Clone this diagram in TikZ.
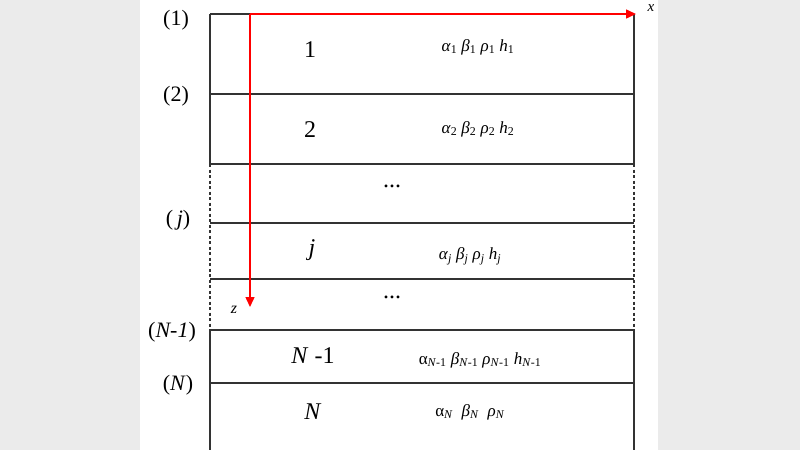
\documentclass[tikz,border=0pt]{standalone}
\usepackage{fontspec}
\setmainfont{Liberation Serif}
\usetikzlibrary{arrows.meta}
\newcommand{\gs}[2]{\textit{#1}\textsubscript{#2}}
\begin{document}
\begin{tikzpicture}[x=1pt,y=-1pt,
  lay/.style={draw=black!80,line width=1.1pt},
  dsh/.style={draw=black!80,line width=1.1pt,dash pattern=on 3pt off 2.5pt},
  ax/.style={red,line width=1.5pt,-{Triangle[length=10pt,width=9pt]}},
  big/.style={font=\fontsize{24}{28}\selectfont},
  par/.style={font=\fontsize{17}{20}\selectfont},
  lbl/.style={font=\fontsize{22}{26}\selectfont}]
\useasboundingbox (0,0) rectangle (800,450);
\fill[black!8] (0,0) rectangle (800,450);
\fill[white] (140,0) rectangle (658,450);
\foreach \y in {14,94,164,223,279,330,383} \draw[lay] (210,\y) -- (634,\y);
\draw[lay] (210,14) -- (210,164); \draw[lay] (634,14) -- (634,164);
\draw[dsh] (210,164) -- (210,330); \draw[dsh] (634,164) -- (634,330);
\draw[lay] (210,330) -- (210,450); \draw[lay] (634,330) -- (634,450);
\coordinate (o) at (250,14);
\coordinate (xe) at (636,14);
\coordinate (ze) at (250,307);
\draw[ax] (o) -- (xe);
\draw[ax] (o) -- (ze);
\node[font=\fontsize{15}{17}\selectfont\itshape] (xl) at (651,8) {x};
\node[font=\fontsize{16}{18}\selectfont\itshape] (zl) at (234,310) {z};
\node[lbl] (i1) at (176,20) {(1)};
\node[lbl] (i2) at (176,96) {(2)};
\node[lbl] (ij) at (178,220) {(\,\textit{j})};
\node[lbl] (iN1) at (172,332) {(\textit{N-1})};
\node[lbl] (iN) at (178,385) {(\textit{N})};
\node[big] (l1) at (310,50) {1};
\node[big] (l2) at (310,130) {2};
\node[big] (ld1) at (392,186) {...};
\node[big] (lj) at (312,250) {\textit{j}};
\node[big] (ld2) at (392,297) {...};
\node[big] (lN1) at (313,356) {\textit{N} -1};
\node[big] (lN) at (313,412) {\textit{N}};
\node[par] (p1) at (478,47) {\gs{α}{1} \gs{β}{1} \gs{ρ}{1} \gs{h}{1}};
\node[par] (p2) at (478,129) {\gs{α}{2} \gs{β}{2} \gs{ρ}{2} \gs{h}{2}};
\node[par] (pj) at (470,256) {\gs{α}{\textit{j}} \gs{β}{\textit{j}} \gs{ρ}{\textit{j}} \gs{h}{\textit{j}}};
\node[par] (pN1) at (480,360) {α\textsubscript{\textit{N}-1} \gs{β}{\textit{N}-1} \gs{ρ}{\textit{N}-1} \gs{h}{\textit{N}-1}};
\node[par] (pN) at (470,412) {α\textsubscript{\textit{N}} \ \gs{β}{\textit{N}} \ \gs{ρ}{\textit{N}}};
\end{tikzpicture}
\end{document}
